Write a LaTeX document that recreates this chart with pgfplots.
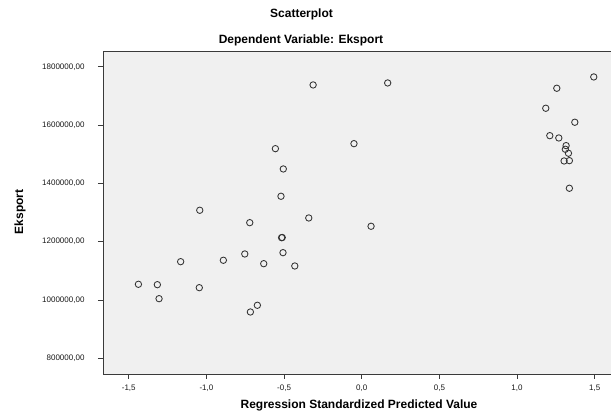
\documentclass[border=0pt]{standalone}
\usepackage{pgfplots}
\pgfplotsset{compat=1.18}
\usepackage{fontspec}
\setmainfont{Liberation Sans}
\definecolor{bggray}{HTML}{F0F0F0}
\definecolor{framec}{HTML}{3A3A3A}
\definecolor{markc}{HTML}{333333}
\begin{document}
\begin{tikzpicture}
\useasboundingbox (-103pt,-40pt) rectangle (508pt,374pt);
\begin{axis}[
  scale only axis,
  width=508pt, height=323pt,
  xmin=-1.666, xmax=1.605,
  ymin=746100, ymax=1854000,
  axis background/.style={fill=bggray},
  axis line style={framec, line width=0.8pt},
  tick style={framec, line width=0.7pt},
  tick align=outside,
  major tick length=5pt,
  xtick pos=bottom, ytick pos=left,
  xtick={-1.5,-1,-0.5,0,0.5,1,1.5},
  xticklabels={{-1,5},{-1,0},{-0,5},{0,0},{0,5},{1,0},{1,5}},
  ytick={800000,1000000,1200000,1400000,1600000,1800000},
  yticklabels={{800000,00},{1000000,00},{1200000,00},{1400000,00},{1600000,00},{1800000,00}},
  tick label style={font=\fontsize{8}{9}\selectfont, text=black!90},
  /pgf/number format/assume math mode=true,
  yticklabel style={xshift=-10pt},
  xticklabel style={yshift=-2.5pt},
  scaled ticks=false,
  clip=false,
]
\addplot[only marks, mark=o, mark size=3.2pt, mark options={draw=markc, line width=0.85pt}] coordinates {
(-1.438,1053800)
(-1.316,1052500)
(-1.305,1004500)
(-1.166,1131400)
(-1.046,1042200)
(-1.043,1307700)
(-0.891,1136200)
(-0.753,1157800)
(-0.721,1265200)
(-0.717,958800)
(-0.672,981800)
(-0.631,1124500)
(-0.556,1519000)
(-0.520,1355700)
(-0.516,1213700)
(-0.512,1214300)
(-0.507,1162300)
(-0.505,1449400)
(-0.431,1116600)
(-0.341,1281300)
(-0.313,1737600)
(-0.050,1536200)
(0.060,1252800)
(0.167,1744400)
(1.494,1765000)
(1.256,1726200)
(1.185,1657600)
(1.372,1609600)
(1.211,1563600)
(1.269,1555700)
(1.316,1529400)
(1.311,1517000)
(1.331,1503300)
(1.303,1476800)
(1.337,1477900)
(1.337,1383200)
};
\end{axis}
\node[font=\bfseries\fontsize{12}{14}\selectfont] at (198.5pt,360pt) {Scatterplot};
\node[font=\bfseries\fontsize{12}{14}\selectfont] at (198pt,334pt) {Dependent Variable: Eksport};
\node[font=\bfseries\fontsize{12}{14}\selectfont] at (256pt,-31pt) {Regression Standardized Predicted Value};
\node[font=\bfseries\fontsize{12}{14}\selectfont, rotate=90] at (-83pt,162pt) {Eksport};
\end{tikzpicture}
\end{document}
